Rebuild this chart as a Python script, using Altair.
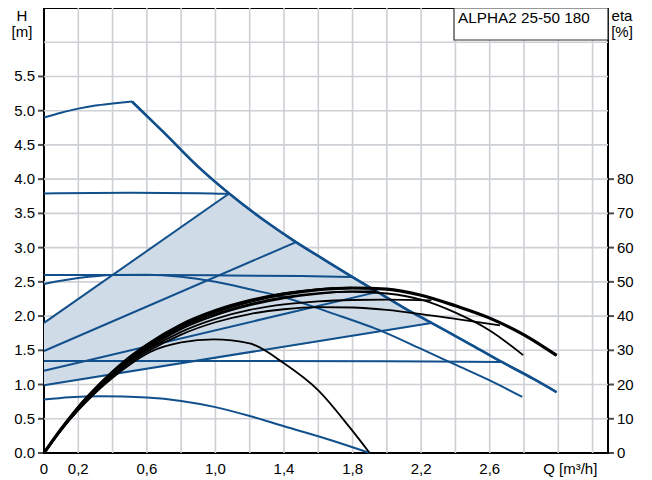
import altair as alt
import pandas as pd

BLUE = "#11508c"
FILL = "#cfdbe6"
GRID = "#cdd0d4"
FONT = "Liberation Sans"

# ---------------- H-Q curves (m) ----------------
q_max_rise = [0, 0.1, 0.2, 0.3, 0.4, 0.513]
h_max_rise = [4.90, 4.97, 5.03, 5.075, 5.105, 5.135]
q_max_fall = [0.513, 0.7, 0.9, 1.08, 1.3, 1.47, 1.65, 1.80, 1.94, 2.1, 2.26, 2.5, 2.67, 2.85, 2.99]
h_max_fall = [5.135, 4.68, 4.18, 3.79, 3.37, 3.08, 2.80, 2.57, 2.36, 2.12, 1.90, 1.57, 1.33, 1.09, 0.89]

q_c2 = [0, 0.2, 0.4, 0.6, 0.8, 1.0, 1.22, 1.38, 1.67, 1.98, 2.2, 2.4, 2.6, 2.79]
h_c2 = [2.47, 2.555, 2.60, 2.605, 2.575, 2.50, 2.38, 2.29, 2.05, 1.77, 1.52, 1.29, 1.06, 0.82]

q_c1 = [0, 0.15, 0.33, 0.6, 0.8, 1.0, 1.2, 1.4, 1.67, 1.9]
h_c1 = [0.78, 0.815, 0.83, 0.81, 0.76, 0.67, 0.54, 0.39, 0.19, 0.0]

q_cp3 = [0, 0.5, 0.9, 1.08]
h_cp3 = [3.79, 3.80, 3.795, 3.785]
q_cp2 = [0, 0.5, 1.0, 1.5, 1.80]
h_cp2 = [2.60, 2.60, 2.595, 2.585, 2.57]
q_cp1 = [0, 1.0, 2.0, 2.67]
h_cp1 = [1.345, 1.345, 1.34, 1.33]

q_pp3 = [0, 1.08]
h_pp3 = [1.90, 3.79]
q_pp2 = [0, 1.47]
h_pp2 = [1.49, 3.08]
q_pp1 = [0, 1.94]
h_pp1 = [1.20, 2.35]
q_aa = [0, 2.26]
h_aa = [0.99, 1.90]

# AUTOADAPT area
area_q = [0, 1.08, 1.3, 1.47, 1.65, 1.80, 1.94, 2.1, 2.26]
area_top = [1.90, 3.79, 3.37, 3.08, 2.80, 2.57, 2.36, 2.12, 1.90]
area_bot = [0.99, 1.415, 1.50, 1.57, 1.64, 1.70, 1.755, 1.82, 1.90]

# ---------------- eta curves (%) ----------------
q_e3 = [0, 0.1, 0.2, 0.3, 0.4, 0.5, 0.6, 0.8, 1.0, 1.2, 1.4, 1.6, 1.8, 2.0, 2.2, 2.4, 2.6, 2.8, 2.99]
e_e3 = [0, 7, 13.3, 18.7, 23.5, 27.8, 31.3, 37.2, 41.3, 44.3, 46.4, 47.7, 48.2, 47.9, 46.1, 43.0, 39.4, 34.5, 28.5]

q_e2 = [0, 0.1, 0.2, 0.3, 0.4, 0.5, 0.6, 0.8, 1.0, 1.2, 1.4, 1.6, 1.8, 2.0, 2.2, 2.4, 2.6, 2.795]
e_e2 = [0, 6.9, 13.1, 18.4, 23.2, 27.4, 30.8, 36.6, 40.6, 43.5, 45.5, 46.7, 47.1, 46.6, 44.8, 41.0, 35.8, 28.6]

q_ecp2 = [0, 0.1, 0.2, 0.3, 0.4, 0.5, 0.6, 0.8, 1.0, 1.2, 1.4, 1.6, 1.8]
e_ecp2 = [0, 7.1, 13.5, 19.0, 23.9, 28.2, 31.8, 37.7, 41.8, 44.7, 46.7, 47.9, 48.3]

q_epp1 = [0, 0.1, 0.2, 0.3, 0.4, 0.5, 0.6, 0.8, 1.0, 1.2, 1.4, 1.6, 1.8, 1.94]
e_epp1 = [0, 6.8, 12.9, 18.2, 22.9, 27.0, 30.4, 36.2, 40.2, 43.1, 45.2, 46.5, 47.2, 47.3]

q_eaa = [0, 0.1, 0.2, 0.3, 0.4, 0.5, 0.6, 0.8, 1.0, 1.2, 1.4, 1.6, 1.8, 2.0, 2.26]
e_eaa = [0, 6.8, 12.8, 18.0, 22.7, 26.7, 30.0, 35.4, 39.2, 41.8, 43.4, 44.3, 44.7, 44.8, 44.6]

q_ecp1 = [0, 0.1, 0.2, 0.3, 0.4, 0.5, 0.6, 0.8, 1.0, 1.2, 1.4, 1.6, 1.8, 2.0, 2.2, 2.4, 2.66]
e_ecp1 = [0, 6.7, 12.6, 17.8, 22.4, 26.3, 29.5, 34.6, 38.2, 40.6, 42.0, 42.6, 42.5, 41.8, 40.6, 39.2, 37.3]

q_e1 = [0, 0.1, 0.2, 0.3, 0.4, 0.5, 0.62, 0.8, 0.99, 1.2, 1.4, 1.6, 1.78, 1.9]
e_e1 = [0, 6.7, 12.5, 17.6, 22.0, 25.8, 29.5, 32.3, 33.2, 32.0, 26.2, 18.3, 7.7, 0]

# ---------------- axes / labels ----------------
x_tick_values = [0, 0.2, 0.4, 0.8, 1.2, 1.6, 2.0, 2.4, 2.8, 3.2]
x_grid_values = [0.2, 0.4, 0.6, 0.8, 1.0, 1.2, 1.4, 1.6, 1.8, 2.0, 2.2, 2.4, 2.6, 2.8, 3.0, 3.2]
x_label_values = [0, 0.2, 0.6, 1.0, 1.4, 1.8, 2.2, 2.6, 3.07]
x_label_texts = ["0", "0,2", "0,6", "1,0", "1,4", "1,8", "2,2", "2,6", "Q [m³/h]"]
h_tick_values = [0, 0.5, 1.0, 1.5, 2.0, 2.5, 3.0, 3.5, 4.0, 4.5, 5.0, 5.5]
h_grid_values = [0.5, 1.0, 1.5, 2.0, 2.5, 3.0, 3.5, 4.0, 4.5, 5.0, 5.5, 6.0]
eta_tick_values = [0, 10, 20, 30, 40, 50, 60, 70, 80]
legend_title = "ALPHA2 25-50 180"
h_title = "H\n[m]"
eta_title = "eta\n[%]"

ETA_PER_M = 20  # right axis: 80 % sits at 4.0 m
X_DOMAIN = [0, 3.29]
H_DOMAIN = [0, 6.5]
W, H = 564, 445


def frame(pairs):
    rows = []
    for name, qs, vs in pairs:
        for q, v in zip(qs, vs):
            rows.append({"curve": name, "Q": q, "v": v})
    return pd.DataFrame(rows)


blue_df = frame([
    ("max_rise", q_max_rise, h_max_rise), ("max_fall", q_max_fall, h_max_fall),
    ("II", q_c2, h_c2), ("I", q_c1, h_c1),
    ("CP3", q_cp3, h_cp3), ("CP2", q_cp2, h_cp2), ("CP1", q_cp1, h_cp1),
    ("PP3", q_pp3, h_pp3), ("PP2", q_pp2, h_pp2), ("PP1", q_pp1, h_pp1),
    ("AA", q_aa, h_aa),
])
max_df = frame([("max_fall", q_max_fall, h_max_fall)])
eta_df = frame([
    ("E3", q_e3, e_e3), ("E2", q_e2, e_e2), ("ECP2", q_ecp2, e_ecp2),
    ("EPP1", q_epp1, e_epp1), ("EAA", q_eaa, e_eaa), ("ECP1", q_ecp1, e_ecp1),
    ("E1", q_e1, e_e1),
])
eta_thick_df = frame([("E3", q_e3, e_e3)])
area_df = pd.DataFrame({"Q": area_q, "top": area_top, "bot": area_bot})
xgrid_df = pd.DataFrame({"g": x_grid_values})
ygrid_df = pd.DataFrame({"g": h_grid_values})
xlab_df = pd.DataFrame({"Q": x_label_values, "t": x_label_texts})
h_tick_df = pd.DataFrame({"h": h_tick_values})
eta_tick_df = pd.DataFrame({"eta": eta_tick_values})
legend_df = pd.DataFrame({"t": [legend_title]})
htitle_df = pd.DataFrame({"t": [h_title]})
etitle_df = pd.DataFrame({"t": [eta_title]})

XS = alt.Scale(domain=X_DOMAIN, nice=False, zero=False)
HS = alt.Scale(domain=H_DOMAIN, nice=False, zero=False)

x_axis = alt.Axis(values=x_tick_values, labels=False, ticks=True, tickSize=6,
                  tickWidth=2, tickColor="black", domain=False, grid=False, title=None)

xgrid = alt.Chart(xgrid_df).mark_rule(color=GRID, strokeWidth=1.6).encode(
    x=alt.X("g:Q", scale=XS, axis=x_axis))
ygrid = alt.Chart(ygrid_df).mark_rule(color=GRID, strokeWidth=1.6).encode(
    y=alt.Y("g:Q", scale=HS, axis=None))
area = alt.Chart(area_df).mark_area(color=FILL, opacity=1, interpolate="linear").encode(
    x=alt.X("Q:Q", scale=XS, axis=None),
    y=alt.Y("top:Q", scale=HS, axis=None),
    y2="bot:Q")
blue = alt.Chart(blue_df).mark_line(color=BLUE, strokeWidth=2, interpolate="monotone").encode(
    x=alt.X("Q:Q", scale=XS, axis=None),
    y=alt.Y("v:Q", scale=HS, axis=None),
    detail="curve:N")
maxline = alt.Chart(max_df).mark_line(color=BLUE, strokeWidth=2.6, interpolate="monotone").encode(
    x=alt.X("Q:Q", scale=XS, axis=None),
    y=alt.Y("v:Q", scale=HS, axis=None),
    detail="curve:N")

eta_lines = alt.Chart(eta_df).transform_calculate(h=f"datum.v / {ETA_PER_M}").mark_line(
    color="black", strokeWidth=1.8, interpolate="monotone").encode(
    x=alt.X("Q:Q", scale=XS, axis=None),
    y=alt.Y("h:Q", scale=HS, axis=None),
    detail="curve:N")
eta_thick = alt.Chart(eta_thick_df).transform_calculate(h=f"datum.v / {ETA_PER_M}").mark_line(
    color="black", strokeWidth=3.2, interpolate="monotone").encode(
    x=alt.X("Q:Q", scale=XS, axis=None),
    y=alt.Y("h:Q", scale=HS, axis=None),
    detail="curve:N")

# left (H) axis
h_ticks = alt.Chart(h_tick_df).mark_tick(color="black", thickness=2, size=6,
                                         orient="horizontal").encode(
    y=alt.Y("h:Q", scale=HS, axis=None), x=alt.value(-3))
h_labels = alt.Chart(h_tick_df).mark_text(fontSize=15, color="black", align="right",
                                          baseline="middle", font=FONT).encode(
    y=alt.Y("h:Q", scale=HS, axis=None), x=alt.value(-9),
    text=alt.Text("h:Q", format=".1f"))

# right (eta) axis
eta_ticks = alt.Chart(eta_tick_df).transform_calculate(h=f"datum.eta / {ETA_PER_M}").mark_tick(
    color="black", thickness=2, size=6, orient="horizontal").encode(
    y=alt.Y("h:Q", scale=HS, axis=None), x=alt.value(W + 3))
eta_labels = alt.Chart(eta_tick_df).transform_calculate(h=f"datum.eta / {ETA_PER_M}").mark_text(
    fontSize=15, color="black", align="left", baseline="middle", font=FONT).encode(
    y=alt.Y("h:Q", scale=HS, axis=None), x=alt.value(W + 9), text="eta:Q")

xlabels = alt.Chart(xlab_df).mark_text(fontSize=15, color="black", align="center",
                                       baseline="alphabetic", font=FONT).encode(
    x=alt.X("Q:Q", scale=XS, axis=None), y=alt.value(H + 21), text="t:N")
h_title_mark = alt.Chart(htitle_df).mark_text(fontSize=15, color="black", align="center",
                                              baseline="top", lineBreak="\n", lineHeight=16,
                                              font=FONT).encode(
    x=alt.value(-22), y=alt.value(1), text="t:N")
eta_title_mark = alt.Chart(etitle_df).mark_text(fontSize=15, color="black", align="center",
                                                baseline="top", lineBreak="\n", lineHeight=16,
                                                font=FONT).encode(
    x=alt.value(W + 14), y=alt.value(1), text="t:N")
legend_box = alt.Chart(legend_df).mark_rect(fill="white", stroke="#333333", strokeWidth=1.2).encode(
    x=alt.value(410), x2=alt.value(W), y=alt.value(0), y2=alt.value(32))
legend_text = alt.Chart(legend_df).mark_text(fontSize=15.3, color="black", align="left",
                                             baseline="alphabetic", font=FONT).encode(
    x=alt.value(414), y=alt.value(15), text="t:N")

chart = alt.layer(
    xgrid, ygrid, area, blue, maxline, eta_lines, eta_thick,
    h_ticks, h_labels, eta_ticks, eta_labels, xlabels,
    h_title_mark, eta_title_mark, legend_box, legend_text,
).properties(
    width=W, height=H,
    autosize=alt.AutoSizeParams(type="none"),
    padding={"left": 36, "right": 36, "top": 0, "bottom": 26},
).configure_view(stroke="black", strokeWidth=2).configure_text(font=FONT)

chart.save("out.html", embed_options={"renderer": "svg", "actions": False})
